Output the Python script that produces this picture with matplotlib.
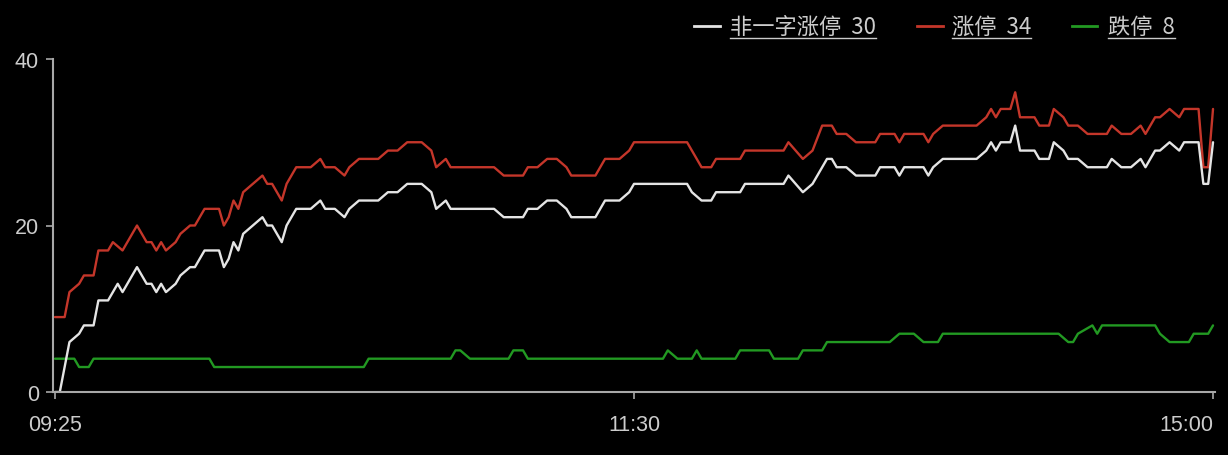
import matplotlib
matplotlib.use("Agg")
import matplotlib.pyplot as plt
from matplotlib.lines import Line2D

# minute index: 0 = 09:25, 120 = 11:30, 240 = 15:00
red_t = [0, 2, 3, 5, 6, 8, 9, 11, 12, 14, 17, 18, 19, 20, 21, 22, 23, 25, 26, 28, 29, 30, 31, 34, 35, 36, 37, 38, 39,
         41, 43, 44, 45, 47, 48, 50, 53, 55, 56, 58, 60, 61, 63, 67, 69, 71, 73, 76, 78, 79, 81, 82, 91, 93, 97, 98,
         100, 102, 104, 106, 107, 112, 114, 117, 119, 120, 131, 134, 136, 137, 142, 143, 151, 152, 155, 157, 159, 161,
         162, 164, 166, 170, 171, 174, 175, 176, 180, 181, 182, 184, 191, 193, 194, 195, 196, 198, 199, 200, 203, 204,
         206, 207, 209, 210, 212, 214, 218, 219, 221, 223, 225, 226, 228, 229, 231, 233, 234, 237, 238, 239, 240]
red_v = [9, 9, 12, 13, 14, 14, 17, 17, 18, 17, 20, 19, 18, 18, 17, 18, 17, 18, 19, 20, 20, 21, 22, 22, 20, 21, 23, 22, 24,
         25, 26, 25, 25, 23, 25, 27, 27, 28, 27, 27, 26, 27, 28, 28, 29, 29, 30, 30, 29, 27, 28, 27, 27, 26, 26, 27,
         27, 28, 28, 27, 26, 26, 28, 28, 29, 30, 30, 27, 27, 28, 28, 29, 29, 30, 28, 29, 32, 32,
         31, 31, 30, 30, 31, 31, 30, 31, 31, 30, 31, 32, 32, 33, 34, 33, 34, 34, 36, 33, 33, 32,
         32, 34, 33, 32, 32, 31, 31, 32, 31, 31, 32, 31, 33, 33, 34, 33, 34, 34, 27, 27, 34]

white_t = [0, 1, 2, 3, 5, 6, 8, 9, 11, 12, 13, 14, 17, 18, 19, 20, 21, 22, 23, 25, 26, 28, 29, 30, 31, 34, 35, 36, 37,
           38, 39, 41, 43, 44, 45, 47, 48, 50, 53, 55, 56, 58, 60, 61, 63, 67, 69, 71, 73, 76, 78, 79, 81, 82, 91, 93,
           97, 98, 100, 102, 104, 106, 107, 112, 114, 117, 119, 120, 131, 132, 134, 136, 137, 142, 143, 151, 152, 155,
           157, 158, 160, 161, 162, 164, 166, 170, 171, 174, 175, 176, 180, 181, 182, 184, 191, 193, 194, 195, 196, 198,
           199, 200, 203, 204, 206, 207, 209, 210, 212, 214, 218, 219, 221, 223, 225, 226, 228, 229, 231, 233, 234,
           237, 238, 239, 240]
white_v = [0, 0, 3, 6, 7, 8, 8, 11, 11, 12, 13, 12, 15, 14, 13, 13, 12, 13, 12, 13, 14, 15, 15, 16, 17, 17, 15, 16, 18,
           17, 19, 20, 21, 20, 20, 18, 20, 22, 22, 23, 22, 22, 21, 22, 23, 23, 24, 24, 25, 25, 24, 22, 23, 22, 22, 21,
           21, 22, 22, 23, 23, 22, 21, 21, 23, 23, 24, 25, 25, 24, 23, 23, 24, 24, 25, 25, 26, 24,
           25, 26, 28, 28, 27, 27, 26, 26, 27, 27, 26, 27, 27, 26, 27, 28, 28, 29, 30, 29, 30, 30,
           32, 29, 29, 28, 28, 30, 29, 28, 28, 27, 27, 28, 27, 27, 28, 27, 29, 29, 30, 29, 30,
           30, 25, 25, 30]

green_t = [0, 4, 5, 7, 8, 32, 33, 64, 65, 82, 83, 84, 86, 94, 95, 97, 98, 126, 127, 129, 132, 133, 134, 141, 142, 148,
           149, 154, 155, 159, 160, 173, 175, 178, 180, 183, 184, 208, 210, 211, 212, 215, 216, 217, 228, 229, 231,
           235, 236, 239, 240]
green_v = [4, 4, 3, 3, 4, 4, 3, 3, 4, 4, 5, 5, 4, 4, 5, 5, 4, 4, 5, 4, 4, 5, 4, 4, 5, 5,
           4, 4, 5, 5, 6, 6, 7, 7, 6, 6, 7, 7, 6, 6, 7, 8, 7, 8, 8, 7, 6,
           6, 7, 7, 8]

x_ticks = [0, 120, 240]
x_labels = ["09:25", "11:30", "15:00"]
y_ticks = [0, 20, 40]

legend_labels = ["非一字涨停 30", "涨停 34", "跌停 8"]

WHITE = "#e4e4e4"
RED = "#c4362a"
GREEN = "#229922"
TXT = "#cccccc"
AXC = "#a8a8a8"

fig = plt.figure(figsize=(12.28, 4.56), dpi=100, facecolor="black")
ax = fig.add_axes([53 / 1228, 63 / 456, 1162 / 1228, 333 / 456])
ax.set_facecolor("black")

kw = dict(linewidth=1.7, solid_joinstyle="round", solid_capstyle="round")
ax.plot(green_t, green_v, color=GREEN, **kw)
ax.plot(red_t, red_v, color=RED, **kw)
ax.plot(white_t, white_v, color=WHITE, **kw)

ax.set_xlim(-0.41, 240.41)
ax.set_ylim(0, 40)

for s in ["top", "right"]:
    ax.spines[s].set_visible(False)
for s in ["left", "bottom"]:
    ax.spines[s].set_color(AXC)
    ax.spines[s].set_linewidth(1.5)

ax.set_yticks(y_ticks)
ax.set_yticklabels([str(v) for v in y_ticks], fontfamily="Liberation Sans", fontsize=15.5, color=TXT)
ax.set_xticks(x_ticks)
ax.set_xticklabels(x_labels, fontfamily="Liberation Sans", fontsize=15.5, color=TXT)
ax.get_xticklabels()[-1].set_ha("right")
ax.tick_params(axis="y", colors=AXC, length=5, width=1.2, pad=5, labelcolor=TXT)
ax.tick_params(axis="x", colors=AXC, length=5, width=1.2, pad=11, labelcolor=TXT)

# legend drawn by hand, with underlined labels
handle_x = [(694, 720), (917, 943), (1072, 1097)]
text_x = [730, 952, 1108]
colors = [WHITE, RED, GREEN]
W, H = 1228, 456
ty = 456 - 27
texts = []
for (h0, h1), tx, c, lab in zip(handle_x, text_x, colors, legend_labels):
    fig.add_artist(Line2D([h0 / W, h1 / W], [ty / H, ty / H], color=c, linewidth=2.0, transform=fig.transFigure))
    t = fig.text(tx / W, ty / H, lab.replace(" ", "  "), color=TXT, fontsize=16, va="center", ha="left",
                 family=["Noto Sans CJK SC", "DejaVu Sans"])
    texts.append(t)

fig.canvas.draw()
r = fig.canvas.get_renderer()
for t in texts:
    bb = t.get_window_extent(renderer=r)
    uy = 456 - 39
    fig.add_artist(Line2D([bb.x0 / W, bb.x1 / W], [uy / H, uy / H], color=TXT, linewidth=1.0,
                          transform=fig.transFigure))

fig.savefig("out.png", dpi=100, facecolor="black")
